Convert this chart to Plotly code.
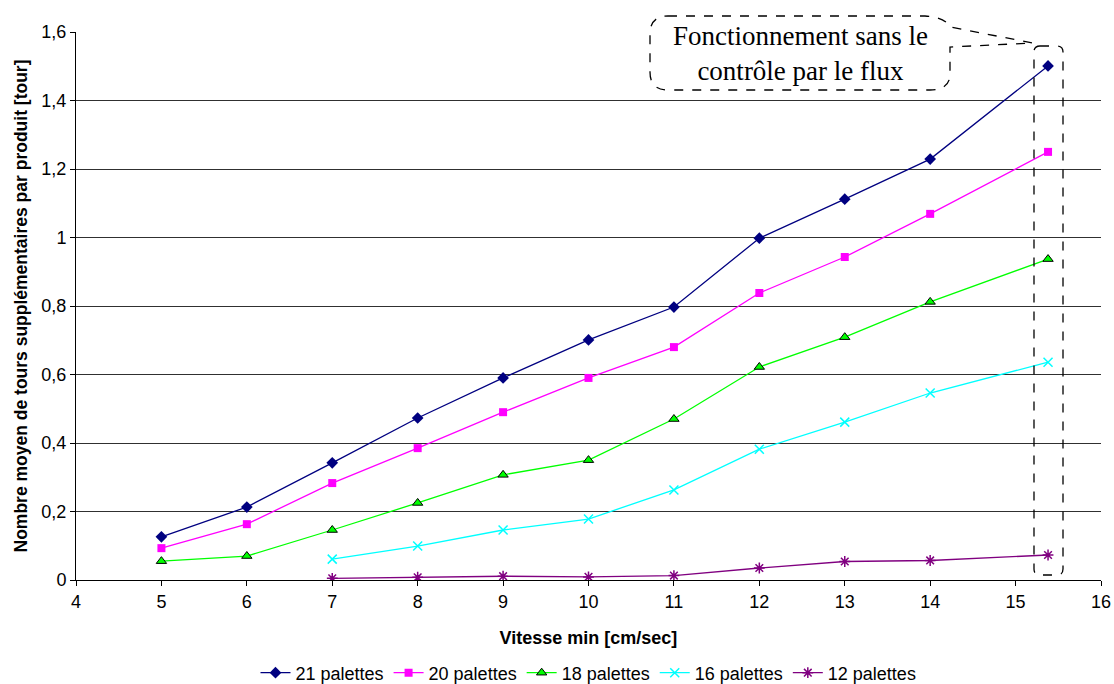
import plotly.graph_objects as go

# ---- data ----
x_a = [5, 6, 7, 8, 9, 10, 11, 12, 13, 14, 15.38]
x_b = [7, 8, 9, 10, 11, 12, 13, 14, 15.38]

p21 = [0.126, 0.213, 0.342, 0.473, 0.590, 0.701, 0.797, 0.998, 1.112, 1.229, 1.501]
p20 = [0.093, 0.163, 0.283, 0.385, 0.490, 0.590, 0.680, 0.838, 0.943, 1.069, 1.250]
p18 = [0.055, 0.070, 0.146, 0.225, 0.307, 0.350, 0.470, 0.622, 0.709, 0.812, 0.937]
p16 = [0.061, 0.099, 0.146, 0.178, 0.263, 0.382, 0.461, 0.546, 0.636]
p12 = [0.005, 0.008, 0.011, 0.009, 0.013, 0.035, 0.054, 0.057, 0.073]

y_ticks = [0, 0.2, 0.4, 0.6, 0.8, 1.0, 1.2, 1.4, 1.6]
x_ticks = list(range(4, 17))

W, H = 1114, 684
ML, MR, MT, MB = 76, 13, 32, 104
PW, PH = W - ML - MR, H - MT - MB

def px(x):
    return (x - ML) / PW

def py(y):
    return (H - MB - y) / PH

fig = go.Figure()

series = [
    ("21 palettes", x_a, p21, "#000080", dict(symbol="diamond", size=9, color="#000080")),
    ("20 palettes", x_a, p20, "#FF00FF", dict(symbol="square", size=8, color="#FF00FF")),
    ("18 palettes", x_a, p18, "#00FF00", dict(symbol="triangle-up", size=9, color="#00FF00",
                                               line=dict(color="black", width=1))),
    ("16 palettes", x_b, p16, "#00FFFF", dict(symbol="x-thin", size=9,
                                               line=dict(color="#00FFFF", width=1.5))),
    ("12 palettes", x_b, p12, "#800080", dict(symbol="asterisk", size=9,
                                               line=dict(color="#800080", width=1.5))),
]
for name, xs, ys, col, mk in series:
    fig.add_trace(go.Scatter(x=xs, y=ys, name=name, mode="lines+markers",
                             line=dict(color=col, width=1.3), marker=mk))

# callout bubble (pixel geometry -> paper coords)
def P(x, y):
    return f"{px(x):.5f},{py(y):.5f}"

bubble = (
    f"M {P(668,16)} L {P(925,16)} Q {P(945,17)} {P(950,27)} "
    f"L {P(1033,43)} L {P(950,47)} L {P(950,74)} Q {P(950,90)} {P(930,90)} "
    f"L {P(668,90)} Q {P(650,90)} {P(650,72)} L {P(650,34)} Q {P(650,16)} {P(668,16)} Z"
)
fig.add_shape(type="path", path=bubble, xref="paper", yref="paper",
              line=dict(color="black", width=1.3, dash="dash"), fillcolor="white", layer="above")

box = (
    f"M {P(1040,46)} L {P(1057,46)} Q {P(1063,46)} {P(1063,52)} L {P(1063,569)} "
    f"Q {P(1063,575)} {P(1057,575)} L {P(1040,575)} Q {P(1034,575)} {P(1034,569)} "
    f"L {P(1034,52)} Q {P(1034,46)} {P(1040,46)} Z"
)
fig.add_shape(type="path", path=box, xref="paper", yref="paper",
              line=dict(color="black", width=1.3, dash="dash"), layer="above")

fig.add_annotation(x=px(800), y=py(53), xref="paper", yref="paper",
                   text="Fonctionnement sans le<br>contrôle par le flux", showarrow=False,
                   font=dict(family="Liberation Serif", size=27, color="black"),
                   xanchor="center", yanchor="middle")

fig.update_layout(
    width=W, height=H,
    margin=dict(l=ML, r=MR, t=MT, b=MB, autoexpand=False),
    paper_bgcolor="white", plot_bgcolor="white",
    separators=", ",
    font=dict(family="Liberation Sans", size=17, color="black"),
    showlegend=True,
    legend=dict(orientation="h", x=0.5, xanchor="center",
                yref="container", y=(H - 673) / H, yanchor="middle",
                font=dict(size=18), tracegroupgap=0),
)
fig.update_xaxes(range=[4, 16], tickvals=x_ticks, showgrid=False, zeroline=False,
                 showline=True, linecolor="black", linewidth=1, mirror=False,
                 ticks="outside", ticklen=5, tickcolor="black", tickfont=dict(size=18),
                 title=dict(text="<b>Vitesse min [cm/sec]</b>", font=dict(size=18), standoff=20))
fig.update_yaxes(range=[0, 1.6], tickvals=y_ticks, showgrid=True, gridcolor="#303030", gridwidth=1,
                 zeroline=False, showline=True, linecolor="black", linewidth=1,
                 ticks="outside", ticklen=5, tickcolor="black", tickfont=dict(size=18),
                 title=dict(text="<b>Nombre moyen de tours supplémentaires par produit [tour]</b>",
                            font=dict(size=17.5), standoff=9))

fig.write_html("out.html", config={"displayModeBar": False},
               post_script="document.body.style.margin='0';document.body.style.padding='0';")
